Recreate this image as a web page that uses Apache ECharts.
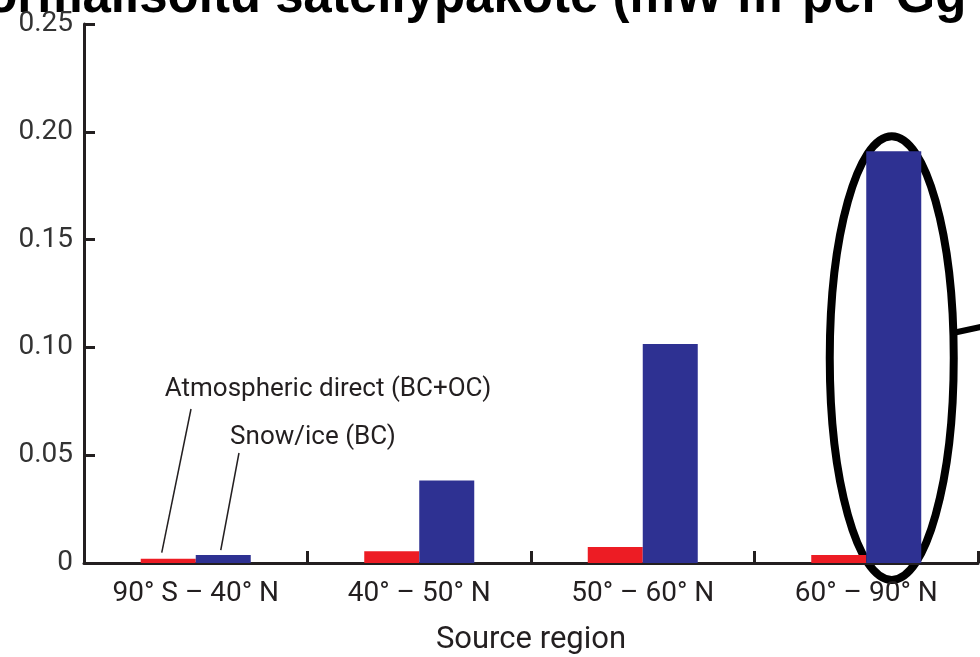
<!DOCTYPE html>
<html>
<head>
<meta charset="utf-8">
<script src="https://cdn.jsdelivr.net/npm/echarts@6/dist/echarts.min.js"></script>
<style>
html,body{margin:0;padding:0;background:#fff;}
#c{width:980px;height:657px;}
</style>
</head>
<body>
<div id="c"></div>
<script>
var categories = ['90° S – 40° N', '40° – 50° N', '50° – 60° N', '60° – 90° N'];
var atmosphericDirect = [0.0020, 0.0054, 0.0074, 0.0037];
var snowIce = [0.0037, 0.0383, 0.1016, 0.1910];
var yTicks = [0, 0.05, 0.10, 0.15, 0.20, 0.25];

var titlePart1 = 'normalisoitu säteilypakote (mW m';
var titleSup = '−2';
var titlePart2 = 'per Gg vuodessa)';
var axisColor = '#231f20';
var labelFont = 'Roboto';

var chart = echarts.init(document.getElementById('c'), null, {renderer: 'canvas'});

var option = {
  backgroundColor: '#ffffff',
  animation: false,
  grid: {left: 84, right: 2, top: 24, bottom: 94, containLabel: false, outerBoundsMode: 'none'},
  xAxis: {
    type: 'category',
    data: categories,
    name: 'Source region',
    nameLocation: 'middle',
    nameGap: 62,
    nameTextStyle: {fontFamily: labelFont, fontSize: 31, color: axisColor},
    axisLine: {lineStyle: {color: axisColor, width: 3}},
    axisTick: {show: true, inside: true, length: 12, lineStyle: {color: axisColor, width: 3}},
    axisLabel: {fontFamily: labelFont, fontSize: 28, color: axisColor, margin: 17},
    splitLine: {show: false}
  },
  yAxis: {
    type: 'value',
    min: yTicks[0],
    max: yTicks[yTicks.length - 1],
    interval: 0.05,
    axisLine: {show: true, lineStyle: {color: axisColor, width: 3}},
    axisTick: {show: true, inside: true, length: 11, lineStyle: {color: axisColor, width: 3}},
    axisLabel: {
      fontFamily: labelFont, fontSize: 28, color: '#333', margin: 11,
      formatter: function (v) { return v === 0 ? '0' : v.toFixed(2); }
    },
    splitLine: {show: false}
  },
  series: [
    {
      name: 'Atmospheric direct (BC+OC)',
      type: 'bar',
      data: atmosphericDirect,
      barWidth: 55,
      barGap: '0%',
      itemStyle: {color: '#ed1c24'}
    },
    {
      name: 'Snow/ice (BC)',
      type: 'bar',
      data: snowIce,
      barWidth: 55,
      barGap: '0%',
      itemStyle: {color: '#2e3192'}
    }
  ]
};
chart.setOption(option);

// Annotations positioned from the chart's own scales
var p0 = chart.convertToPixel({gridIndex: 0}, [0, 0]);
var p3 = chart.convertToPixel({gridIndex: 0}, [3, 0]);
var bw = 55;
var redTop0 = chart.convertToPixel({gridIndex: 0}, [0, atmosphericDirect[0]]);
var blueTop0 = chart.convertToPixel({gridIndex: 0}, [0, snowIce[0]]);
var blueTop3 = chart.convertToPixel({gridIndex: 0}, [3, snowIce[3]]);

var ellCx = p3[0] + bw / 2 - 2;
var ellCy = (blueTop3[1] + p3[1]) / 2 + 1;
var ellRx = 62;
var ellRy = (p3[1] - blueTop3[1]) / 2 + 16;

chart.setOption({
  graphic: [
    {
      type: 'text', left: -45, top: -28, silent: true,
      style: {text: titlePart1, fontFamily: 'Liberation Sans', fontWeight: 'bold', fontSize: 51, fill: '#000'}
    },
    {
      type: 'text', left: 770, top: -40, silent: true,
      style: {text: titleSup, fontFamily: 'Liberation Sans', fontWeight: 'bold', fontSize: 30, fill: '#000'}
    },
    {
      type: 'text', left: 802, top: -28, silent: true,
      style: {text: titlePart2, fontFamily: 'Liberation Sans', fontWeight: 'bold', fontSize: 51, fill: '#000'}
    },
    {
      type: 'text', x: 328, y: 389, silent: true,
      style: {text: 'Atmospheric direct (BC+OC)', fontFamily: labelFont, fontSize: 26, fill: axisColor, align: 'center', verticalAlign: 'middle'}
    },
    {
      type: 'text', x: 313, y: 437, silent: true,
      style: {text: 'Snow/ice (BC)', fontFamily: labelFont, fontSize: 26, fill: axisColor, align: 'center', verticalAlign: 'middle'}
    },
    {
      type: 'line', silent: true,
      shape: {x1: 191, y1: 409, x2: p0[0] - 34, y2: redTop0[1] - 6},
      style: {stroke: axisColor, lineWidth: 1.5}
    },
    {
      type: 'line', silent: true,
      shape: {x1: 239, y1: 453, x2: p0[0] + 25, y2: blueTop0[1] - 5},
      style: {stroke: axisColor, lineWidth: 1.5}
    },
    {
      type: 'ellipse', silent: true,
      shape: {cx: ellCx, cy: ellCy, rx: ellRx, ry: ellRy},
      style: {fill: 'none', stroke: '#000', lineWidth: 8}
    },
    {
      type: 'line', silent: true,
      shape: {x1: ellCx + ellRx - 1, y1: 333, x2: 990, y2: 325},
      style: {stroke: '#000', lineWidth: 6}
    }
  ]
});
</script>
</body>
</html>
